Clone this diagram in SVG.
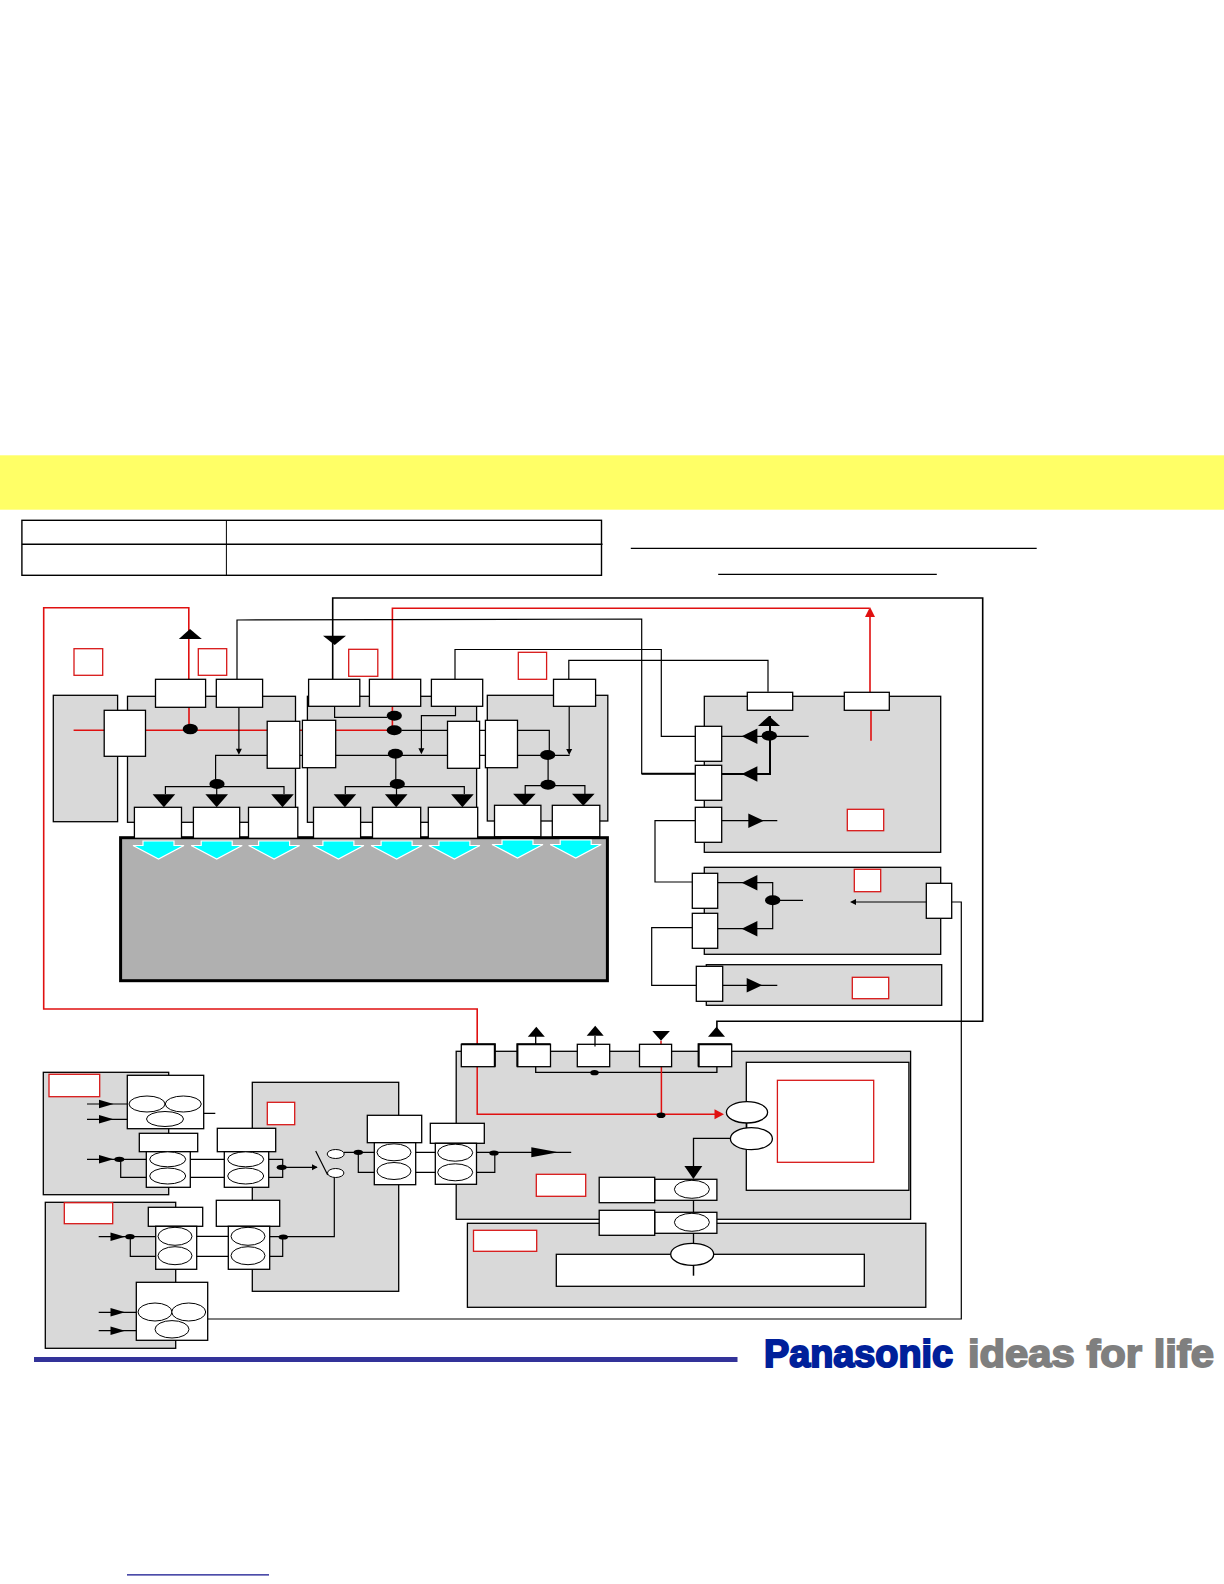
<svg xmlns="http://www.w3.org/2000/svg" width="1224" height="1584" viewBox="0 0 1224 1584">
<style>
.p{fill:#d9d9d9;stroke:#000;stroke-width:1.3}
.b{fill:#fff;stroke:#000;stroke-width:1.3}
.t{fill:#fff;stroke:#000;stroke-width:1.3}
.x{fill:none;stroke:#000;stroke-width:2}
.r{fill:#fff;stroke:#d81818;stroke-width:1.3}
.e{fill:#fff;stroke:#000;stroke-width:1}
.d{fill:#000;stroke:none}
.c{fill:none;stroke:#000;stroke-width:1.2}
.h{fill:none;stroke:#000;stroke-width:2}
.n{fill:none;stroke:#e01010;stroke-width:1.3}
.a{fill:#000;stroke:none}
.q{fill:#0ff;stroke:#fff;stroke-width:1.2}
</style>
<defs>
<polygon id="dn" class="a" points="-11.3,0 11.3,0 0,13"/>
<polygon id="dn2" class="a" points="-11.3,0 11.3,0 0,12"/>
<polygon id="lf" class="a" points="0,0 15.7,-7.7 15.7,7.7"/>
<polygon id="rt" class="a" points="0,-7.2 0,7.2 15.5,0"/>
<polygon id="sm" class="a" points="-7,-4.3 -7,4.3 7.5,0"/>
<polygon id="up" class="a" points="-8.5,10 8.5,10 0,0"/>
<polygon id="sd" class="a" points="-3,-6 3,-6 0,0"/>
<polygon id="cy" class="q" points="-15.5,3 15.5,3 15.5,7.5 25.5,7.5 0,21 -25.5,7.5 -15.5,7.5"/>
</defs>
<rect id="banner" x="0" y="455.3" width="1224" height="54.4" fill="#ffff66"/>
<g id="table" fill="none" stroke="#000">
<rect x="21.9" y="520.3" width="579.6" height="55" stroke-width="1.4"/>
<path d="M21.9 544.3H602.5" stroke-width="1.4"/>
<path d="M226.4 520.3V575.3" stroke-width="1"/>
</g>
<g id="title-rules" stroke="#000" stroke-width="1.3">
<path d="M630.8 548.3H1036.7M718.2 574.3H936.8"/>
</g>
<g id="panels">
<rect class="p" x="53.3" y="695.3" width="64.3" height="126.4"/>
<rect class="p" x="127.5" y="696.3" width="168" height="126"/>
<rect class="p" x="307.4" y="696.3" width="169.2" height="126"/>
<rect class="p" x="487.3" y="695.3" width="120.5" height="125.7"/>
<rect class="p" x="704.3" y="696.3" width="236.4" height="156"/>
<rect class="p" x="704.3" y="867.3" width="236.4" height="87"/>
<rect class="p" x="706.3" y="964.7" width="235.4" height="40.6"/>
<rect class="p" x="43.3" y="1072.3" width="125.4" height="122.4"/>
<rect class="p" x="45.3" y="1202.3" width="130.4" height="146"/>
<rect class="p" x="252.3" y="1082.3" width="146.4" height="209"/>
<rect class="p" x="456.2" y="1051.3" width="454.4" height="168"/>
<rect class="p" x="467.4" y="1223.3" width="458.4" height="84"/>
<rect class="b" x="746.3" y="1062.3" width="162.6" height="128"/>
</g>
<g id="connectors">
<path class="n" d="M477.2 1044.3V1009H43.7V607.7H188.8V679M189 707V725M73.6 730.3H387M392.4 679V608.3H869.5M870 617L870 692M871 710.7V740.7M392.4 706V726" style="stroke-width:1.6"/>
<path class="c" d="M332.7 679V598H982.7V1021.3H716.9V1036" style="stroke-width:1.6"/>
<path class="c" d="M237 679V620L641.7 619V773.7H695.3"/>
<path class="c" d="M455 679V649.5H661.3V736.3H695.3"/>
<path class="c" d="M568.8 679V660.3H768V691.7"/>
<path class="c" d="M334.6 706V717.3H387M455.5 706V715.7H421.4V750M238.9 707V750M569.2 706V750"/>
<path class="c" d="M215.6 784V755.3H305M335.7 755.3H447.5M479.6 755.3H485.4M517.5 755.3H569.6M402 730.3H447.5M479.6 730.3H485.4M517.5 730.3H549.3V755"/>
<path class="c" d="M395.8 755.3V784M548.1 755V784.7"/>
<path class="c" d="M165.4 794V786.7H284V794M216.7 786V795M345.3 794V786.7H464.3V794M396.5 786V795M525.2 794V785.7H584.9V794"/>
<path class="c" d="M721.7 736.3H808.7M721.7 820.7H777.3M717.7 882.7H772.7V928.7H717.7M772.7 900.3H803M856 902H926.3M722.7 985.3H777.3M695.3 820.7H655V882H692.3M692.3 927.7H651.7V985.3H696.3M951.7 902H961.3V1319H207.7"/>
<path class="h" d="M721.7 774H770V716M641.7 773.7H695.3"/>
<path class="c" d="M87 1104H127.3M87 1119.3H127.3M203.7 1113.3H215.3M87 1159.3H146.7M120.7 1159.3V1177.3H146.7M190.3 1159.3H224.3M190.3 1177.3H224.3M268.7 1159.3H282.7V1177.3H268.7M281.7 1167.3H317M315.7 1151L327.7 1175M344 1152.3H374.3M358.3 1152.3V1172.3H374.3M415.7 1152.3H435.3M415.7 1172.3H435.3M476.5 1152.3H571.2M476.5 1172.3H494.8V1153"/>
<path class="c" d="M98.7 1236.7H155.7M130.3 1236.7V1256.3H155.7M196.7 1236.3H228.3M196.7 1256.3H228.3M269.7 1236.7H334.3V1177.3M282.7 1237V1256.3H269.7M98.7 1312.3H136.3M98.7 1330.7H136.3"/>
<path class="c" d="M535.7 1036V1066.7M535.7 1066.7V1072.3H716.9V1066.7M595 1036V1046M746.7 1110V1128M693.5 1166.7V1138.3H731M693.5 1200.3V1212.3M693.5 1233.3V1243.3M693.5 1265.3V1275.7" style="stroke-width:1.3"/>
<path class="n" d="M477.2 1066.7V1114.3H715M661.4 1066.7V1115M661 1040.7V1044.3" style="stroke-width:1.5"/>
<g id="dots">
<ellipse class="d" cx="190.3" cy="729" rx="7.6" ry="5.3"/>
<ellipse class="d" cx="394.3" cy="715.7" rx="7.6" ry="5"/>
<ellipse class="d" cx="394.3" cy="730.3" rx="7.6" ry="5"/>
<ellipse class="d" cx="395.4" cy="753.7" rx="7.6" ry="5"/>
<ellipse class="d" cx="217" cy="784" rx="7.6" ry="5"/>
<ellipse class="d" cx="397.3" cy="784" rx="7.6" ry="5"/>
<ellipse class="d" cx="547.7" cy="755" rx="7.6" ry="5"/>
<ellipse class="d" cx="548" cy="784.7" rx="7.6" ry="5"/>
<ellipse class="d" cx="769.3" cy="735.7" rx="7.7" ry="5"/>
<ellipse class="d" cx="772.7" cy="900.3" rx="7.7" ry="5"/>
<ellipse class="d" cx="119.3" cy="1159.3" rx="5" ry="2.6"/>
<ellipse class="d" cx="281.7" cy="1167.3" rx="5" ry="2.6"/>
<ellipse class="d" cx="358.3" cy="1152.3" rx="4.7" ry="2.6"/>
<ellipse class="d" cx="130" cy="1236.7" rx="4.7" ry="2.6"/>
<ellipse class="d" cx="283.3" cy="1237" rx="4.7" ry="2.6"/>
<ellipse class="d" cx="494" cy="1153" rx="4.7" ry="2.6"/>
<ellipse class="d" cx="594.5" cy="1072.7" rx="4.2" ry="2.6"/>
<ellipse class="d" cx="661" cy="1115.3" rx="4.4" ry="2.8"/>
</g>
<g id="arrowheads">
<polygon class="a" points="178.8,639 201.8,639 190,629"/>
<polygon class="a" points="323,635.7 346,635.7 334.7,645"/>
<polygon points="865,617 875,617 870,607" fill="#e01010"/>
<use href="#sd" x="238.9" y="754.7"/><use href="#sd" x="421.4" y="754.3"/><use href="#sd" x="569.2" y="755"/>
<use href="#dn" x="163.9" y="794.3"/><use href="#dn" x="216.7" y="794.3"/><use href="#dn" x="282.5" y="794.3"/>
<use href="#dn" x="344.9" y="794.3"/><use href="#dn" x="396.2" y="794.3"/><use href="#dn" x="462.4" y="794.3"/>
<use href="#dn2" x="524.4" y="793.7"/><use href="#dn2" x="583.3" y="793.7"/>
<polygon class="a" points="758,726 780,726 769,716"/>
<use href="#lf" x="741.7" y="736.3"/><use href="#lf" x="741.7" y="774"/>
<use href="#lf" x="741.7" y="882.7"/><use href="#lf" x="741.7" y="928.7"/>
<use href="#rt" x="748.3" y="820.7"/><use href="#rt" x="746.7" y="985.3"/>
<polygon class="a" points="850,902 856,899 856,905"/>
<use href="#sm" x="106" y="1104"/><use href="#sm" x="106" y="1119.3"/><use href="#sm" x="106" y="1159.3"/>
<use href="#sm" x="117.5" y="1236.7"/><use href="#sm" x="117.5" y="1312.3"/><use href="#sm" x="117.5" y="1330.7"/>
<polygon class="a" points="312,1164.3 312,1170.3 317.7,1167.3"/>
<polygon class="a" points="531.3,1147.3 531.3,1157.3 558.3,1152.3"/>
<use href="#up" x="536.3" y="1026.7"/><use href="#up" x="595.2" y="1025.7"/><use href="#up" x="716.5" y="1026.7"/>
<polygon class="a" points="652.3,1031 669.9,1031 661,1040.7"/>
<polygon points="714.5,1109.3 714.5,1119.3 724,1114.3" fill="#e01010"/>
<polygon class="a" points="684.4,1166 702.3,1166 693.4,1179"/>
</g>
</g>
<g id="screen">
<rect x="120.6" y="837.7" width="486.8" height="143" fill="#b0b0b0" stroke="#000" stroke-width="3"/>
<use href="#cy" x="158.5" y="838"/><use href="#cy" x="216.7" y="838"/><use href="#cy" x="274.1" y="838"/>
<use href="#cy" x="338.4" y="838"/><use href="#cy" x="396.6" y="838"/><use href="#cy" x="454.4" y="838"/>
<use href="#cy" x="517.5" y="837"/><use href="#cy" x="575.7" y="837"/>
</g>
<g id="n-left"><rect class="b" x="104.2" y="710.3" width="41.3" height="46"/></g>
<g id="n-t1"><rect class="b" x="155.5" y="679.3" width="50.1" height="28"/></g>
<g id="n-t2"><rect class="b" x="216.3" y="679.3" width="46.3" height="28"/></g>
<g id="n-t3"><rect class="b" x="308.6" y="679.3" width="51.2" height="27"/></g>
<g id="n-t4"><rect class="b" x="369.4" y="679.3" width="51.3" height="27"/></g>
<g id="n-t5"><rect class="b" x="431.4" y="679.3" width="51.3" height="27"/></g>
<g id="n-t6"><rect class="b" x="553.5" y="679.3" width="42.1" height="27"/></g>
<g id="n-m1"><rect class="b" x="267.2" y="721.3" width="32.6" height="47"/></g>
<g id="n-m2"><rect class="b" x="302.4" y="720.3" width="33.3" height="47.4"/></g>
<g id="n-m3"><rect class="b" x="447.5" y="721.3" width="32.1" height="47"/></g>
<g id="n-m4"><rect class="b" x="485.4" y="720.3" width="32.1" height="47.4"/></g>
<g id="n-s1"><rect class="b" x="134.4" y="807.3" width="47.1" height="31"/></g>
<g id="n-s2"><rect class="b" x="193.4" y="807.3" width="46.3" height="31"/></g>
<g id="n-s3"><rect class="b" x="248.5" y="807.3" width="49.3" height="31"/></g>
<g id="n-s4"><rect class="b" x="313.5" y="807.3" width="47.1" height="31"/></g>
<g id="n-s5"><rect class="b" x="372.5" y="807.3" width="48.2" height="31"/></g>
<g id="n-s6"><rect class="b" x="428.3" y="807.3" width="49.4" height="31"/></g>
<g id="n-s7"><rect class="b" x="494.5" y="805.3" width="46.4" height="31.4"/></g>
<g id="n-s8"><rect class="b" x="552.3" y="805.3" width="47.5" height="31.4"/></g>
<g id="n-e1"><rect class="b" x="747.3" y="692.3" width="45.4" height="18"/></g>
<g id="n-e2"><rect class="b" x="844.3" y="692.3" width="45" height="18"/></g>
<g id="n-e3"><rect class="b" x="695.3" y="726.3" width="26.4" height="35"/></g>
<g id="n-e4"><rect class="b" x="695.3" y="765.3" width="26.4" height="35"/></g>
<g id="n-e5"><rect class="b" x="695.3" y="807.3" width="26.4" height="35"/></g>
<g id="n-f1"><rect class="b" x="692.3" y="873.3" width="25.4" height="35"/></g>
<g id="n-f2"><rect class="b" x="692.3" y="913.3" width="25.4" height="35"/></g>
<g id="n-f3"><rect class="b" x="926.3" y="883.3" width="25.4" height="35"/></g>
<g id="n-g1"><rect class="b" x="696.3" y="966.3" width="26.4" height="35"/></g>
<g id="labels-red">
<rect class="r" x="74" y="648.7" width="28.7" height="26.6"/>
<rect class="r" x="198.3" y="648.7" width="28.4" height="26.6"/>
<rect class="r" x="348.7" y="649.3" width="29.1" height="27"/>
<rect class="r" x="518.3" y="652.3" width="28.3" height="27"/>
<rect class="r" x="847.3" y="809.3" width="36.4" height="21.4"/>
<rect class="r" x="854.3" y="869.3" width="26.4" height="22.4"/>
<rect class="r" x="852.3" y="977.3" width="36.4" height="21.4"/>
<rect class="r" x="49" y="1074.3" width="50.7" height="22.4"/>
<rect class="r" x="64.3" y="1202.7" width="48.4" height="21"/>
<rect class="r" x="267.3" y="1102.3" width="27.4" height="22.4"/>
<rect class="r" x="536.3" y="1174.3" width="49.4" height="22"/>
<rect class="r" x="473.5" y="1230.3" width="63.2" height="21"/>
<rect class="r" x="777.4" y="1080.3" width="96.3" height="82"/>
</g>
<g id="n-sw"><ellipse class="e" cx="335.7" cy="1154" rx="8.5" ry="4.5"/><ellipse class="e" cx="335.7" cy="1173" rx="8.2" ry="4.5"/></g>
<g id="n-tri1"><rect class="b" x="127.3" y="1075.3" width="76.4" height="53.4"/><ellipse class="e" cx="147" cy="1104" rx="18" ry="8"/><ellipse class="e" cx="183.3" cy="1104" rx="18" ry="8"/><ellipse class="e" cx="165" cy="1119" rx="18.5" ry="7.5"/></g>
<g id="n-tri2"><rect class="b" x="136.3" y="1282.3" width="71.4" height="58"/><ellipse class="e" cx="155" cy="1312" rx="17" ry="9"/><ellipse class="e" cx="188.7" cy="1312" rx="17" ry="9"/><ellipse class="e" cx="172" cy="1329.3" rx="17" ry="8.7"/></g>
<g id="n-u1"><rect class="b" x="139.3" y="1133.3" width="58.4" height="18.4"/><rect class="b" x="146.3" y="1151.7" width="44" height="35.6"/><ellipse class="e" cx="167.7" cy="1159.3" rx="18" ry="7.5"/><ellipse class="e" cx="167.7" cy="1176" rx="18" ry="8"/></g>
<g id="n-u2"><rect class="b" x="217.3" y="1128.3" width="58.4" height="23.4"/><rect class="b" x="224.3" y="1151.7" width="44.4" height="35.6"/><ellipse class="e" cx="245.7" cy="1159.3" rx="18" ry="7.5"/><ellipse class="e" cx="245.7" cy="1176" rx="18" ry="8"/></g>
<g id="n-u3"><rect class="b" x="367.3" y="1115.3" width="54.4" height="27.4"/><rect class="b" x="374.3" y="1142.7" width="41.4" height="42"/><ellipse class="e" cx="394" cy="1152.3" rx="17" ry="8.5"/><ellipse class="e" cx="394" cy="1171" rx="17" ry="8.5"/></g>
<g id="n-u4"><rect class="b" x="430.3" y="1123.3" width="54" height="20"/><rect class="b" x="435.3" y="1143.3" width="41.2" height="41"/><ellipse class="e" cx="455.2" cy="1152.7" rx="17.5" ry="8.5"/><ellipse class="e" cx="455.2" cy="1172.3" rx="17.5" ry="8.5"/></g>
<g id="n-v1"><rect class="b" x="148.3" y="1207.3" width="54.4" height="19"/><rect class="b" x="155.7" y="1226.3" width="41" height="43"/><ellipse class="e" cx="175" cy="1236.3" rx="17" ry="9"/><ellipse class="e" cx="175" cy="1255.7" rx="17" ry="9"/></g>
<g id="n-v2"><rect class="b" x="216.3" y="1200.3" width="63.4" height="26"/><rect class="b" x="228.3" y="1226.3" width="41.4" height="43"/><ellipse class="e" cx="248" cy="1236.3" rx="17" ry="9"/><ellipse class="e" cx="248" cy="1255.7" rx="17" ry="9"/></g>
<g id="n-k1"><rect class="t" x="461.3" y="1044.3" width="33.5" height="22.4"/><path class="x" d="M461.3 1044.3H494.8V1066.7"/></g>
<g id="n-k2"><rect class="t" x="517.4" y="1044.3" width="33.1" height="22.4"/><path class="x" d="M517.4 1066.7V1044.3H550.5"/></g>
<g id="n-k3"><rect class="b" x="577.3" y="1044.3" width="32.4" height="22.4"/><path class="c" d="M595 1044.3V1046.5"/></g>
<g id="n-k4"><rect class="b" x="639.5" y="1044.3" width="32.1" height="22.4"/></g>
<g id="n-k5"><rect class="t" x="698.6" y="1044.3" width="33.1" height="22.4"/><path class="x" d="M698.6 1066.7V1044.3H731.7"/></g>
<g id="n-o1"><ellipse class="e" cx="747" cy="1112.3" rx="20.6" ry="10.7" style="stroke-width:1.3"/></g>
<g id="n-o2"><ellipse class="e" cx="751.4" cy="1138.7" rx="21" ry="11" style="stroke-width:1.3"/></g>
<g id="n-w"><rect class="b" x="556.3" y="1254.3" width="308" height="32"/></g>
<g id="n-c1"><rect class="b" x="654.7" y="1179.3" width="62.2" height="21"/><rect class="b" x="599.2" y="1177.3" width="55.5" height="25.4"/><ellipse class="e" cx="691.9" cy="1189.3" rx="17.5" ry="9"/></g>
<g id="n-c2"><rect class="b" x="654.7" y="1212.3" width="62.2" height="21"/><rect class="b" x="599.2" y="1210.3" width="55.5" height="25"/><ellipse class="e" cx="691.9" cy="1222.3" rx="17.5" ry="9"/></g>
<g id="n-c3"><ellipse class="e" cx="692.2" cy="1254.3" rx="21.5" ry="11" style="stroke-width:1.3"/></g>
<path class="c" d="M693.5 1265V1275.7" style="stroke-width:1.5"/>
<rect id="footer-bar" x="34" y="1357" width="703.5" height="5" fill="#333399"/>
<g id="logo" font-family="'Liberation Sans',Arial,sans-serif" font-weight="700" font-size="39">
<text x="764" y="1367" fill="#00209a" stroke="#00209a" stroke-width="2" textLength="189" lengthAdjust="spacingAndGlyphs">Panasonic</text>
<text x="968" y="1367" fill="#7f7f7f" stroke="#7f7f7f" stroke-width="1.8" textLength="246" lengthAdjust="spacingAndGlyphs">ideas for life</text>
</g>
<path id="footer-link" d="M127 1574.8H269" stroke="#10108c" stroke-width="1.2"/>
</svg>
